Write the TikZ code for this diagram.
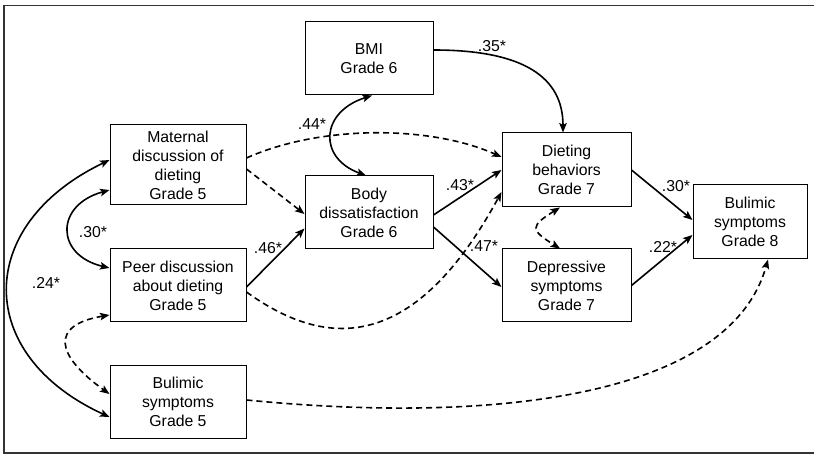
\documentclass[tikz,border=0pt]{standalone}
\usepackage{fontspec}
\setmainfont{Liberation Sans}
\usetikzlibrary{arrows.meta,positioning}

\begin{document}
\begin{tikzpicture}[x=1pt,y=-1pt,
    box/.style={draw,line width=1pt,align=center,inner sep=0pt,
        font=\fontsize{15.8}{19}\selectfont},
    eff/.style={line width=1.6pt,-{Stealth[length=9.5pt,width=7.5pt,inset=2pt]}},
    cov/.style={line width=1.6pt,{Stealth[length=9.5pt,width=7.5pt,inset=2pt]}-{Stealth[length=9.5pt,width=7.5pt,inset=2pt]}},
    nsig/.style={dash pattern=on 6pt off 4pt},
    coef/.style={font=\fontsize{15.8}{19}\selectfont,inner sep=0pt}]%
    \useasboundingbox (0,0) rectangle (814,454);
    \draw[line width=1.3pt,black!80] (814,5.5) -- (4,5.5) -- (4,453) -- (814,453); %%
    \begin{scope}
        \node[box,minimum width=128pt,minimum height=73pt] (bmi) at (369,58.5) {BMI\\Grade 6}; %%
        \node[box,minimum width=136pt,minimum height=80pt] (mat) at (178,165) {Maternal\\discussion of\\dieting\\Grade 5}; %%
        \node[box,minimum width=128pt,minimum height=73pt] (body) at (369,212.5) {Body\\dissatisfaction\\Grade 6}; %%
        \node[box,minimum width=129pt,minimum height=74pt] (diet) at (566.5,170) {Dieting\\behaviors\\Grade 7}; %%
        \node[box,minimum width=114pt,minimum height=74pt] (bul8) at (750,222) {Bulimic\\symptoms\\Grade 8}; %%
        \node[box,minimum width=136pt,minimum height=73pt] (peer) at (178,285.5) {Peer discussion\\about dieting\\Grade 5}; %%
        \node[box,minimum width=129pt,minimum height=73pt] (dep) at (566.5,285.5) {Depressive\\symptoms\\Grade 7}; %%
        \node[box,minimum width=136pt,minimum height=73pt] (bul5) at (178,401.5) {Bulimic\\symptoms\\Grade 5}; %%
    \end{scope}
    % significant paths
    \draw[eff] ([yshift=8.5pt]bmi.east) .. controls (525,50) and (563,78) .. ([xshift=-3.5pt]diet.north); %%
    \draw[cov] ([xshift=3pt]bmi.south) .. controls (320,112) and (318,158) .. ([xshift=-3pt]body.north); %%
    \draw[eff] ([yshift=-1.5pt]peer.east) -- ([yshift=-16pt]body.west); %%
    \draw[eff] ([yshift=-2.5pt]body.east) -- (diet.west); %%
    \draw[eff] ([yshift=-14.5pt]body.east) -- ([yshift=-1.5pt]dep.west); %%
    \draw[eff] (diet.east) -- ([yshift=2pt]bul8.west); %%
    \draw[eff] (dep.east) -- ([yshift=-13pt]bul8.west); %%
    \draw[cov] ([yshift=5pt]mat.west) .. controls (-26,225) and (-26,355) .. ([yshift=-15.5pt]bul5.west); %%
    \draw[cov] ([yshift=-25pt]mat.west) .. controls (55,205) and (55,255) .. ([yshift=17.5pt]peer.west); %%
    % non-significant paths
    \draw[eff,nsig] ([yshift=7pt]mat.east) .. controls (320,125) and (430,125) .. ([yshift=13pt]diet.west); %%
    \draw[eff,nsig] ([yshift=-4pt]mat.east) -- ([yshift=-1.5pt]body.west); %%
    \draw[eff,nsig] ([yshift=-6.5pt]peer.east) .. controls (320,345) and (410,360) .. ([yshift=-22pt]diet.west); %%
    \draw[cov,nsig] ([xshift=-6.5pt]diet.south) .. controls (530,226) and (530,230) .. ([xshift=-6.5pt]dep.north); %%
    \draw[eff,nsig] ([yshift=1.5pt]bul5.east) .. controls (500,425) and (730,395) .. ([xshift=18pt]bul8.south); %%
    \draw[cov,nsig] ([yshift=-29.5pt]peer.west) .. controls (50,325) and (55,355) .. ([yshift=7.5pt]bul5.west); %%
    % coefficients
    \node[coef] (c35) at (492,46) {.35*}; %%
    \node[coef] (c44) at (312,124) {.44*}; %%
    \node[coef] (c43) at (460,185) {.43*}; %%
    \node[coef] (c47) at (484,246) {.47*}; %%
    \node[coef] (c30r) at (676,186) {.30*}; %%
    \node[coef] (c22) at (663,247) {.22*}; %%
    \node[coef] (c46) at (268,248) {.46*}; %%
    \node[coef] (c30l) at (93,232) {.30*}; %%
    \node[coef] (c24) at (46,283) {.24*}; %%
\end{tikzpicture}
\end{document}
